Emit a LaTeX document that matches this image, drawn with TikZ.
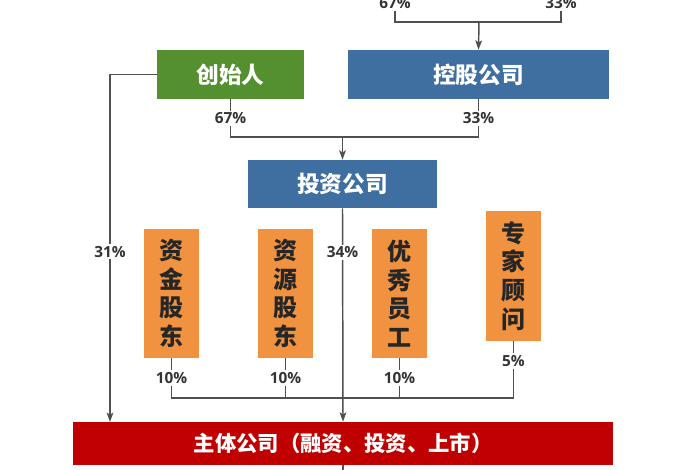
\documentclass[tikz,border=0pt]{standalone}
\usepackage{fontspec}
\setmainfont{Noto Sans CJK SC}
\newfontfamily\pctfont{Open Sans}
\usetikzlibrary{arrows.meta}
\definecolor{founderGreen}{RGB}{84,144,48}
\definecolor{companyBlue}{RGB}{62,111,160}
\definecolor{holderOrange}{RGB}{240,146,64}
\definecolor{mainRed}{RGB}{192,0,0}
\definecolor{lineGray}{RGB}{80,80,80}
\definecolor{pctGray}{RGB}{51,51,51}
\newdimen\unitpx \unitpx=0.75pt

\begin{document}
\begin{tikzpicture}[x=0.75pt,y=0.75pt,yscale=-1,xscale=1,
    conn/.style={draw=lineGray, line width=1.1pt},
    tip/.style={-{Stealth[length=7pt,width=5pt,inset=1.5pt]}},
    pct/.style={fill=white, inner sep=1.5pt, text=pctGray, font=\pctfont\bfseries\fontsize{11.5}{12}\selectfont},
    boxlabel/.style={draw=none, inner sep=0pt, text=white, font=\bfseries\fontsize{17}{20}\selectfont},
    holder/.style={fill=holderOrange, inner sep=0pt, minimum width=55\unitpx, align=center, text=black!85,
        font=\bfseries\fontsize{18}{21.4}\selectfont}]
    \useasboundingbox (0,0) rectangle (700,470);

    %Shape: Rectangle [founder]
    \node [boxlabel, fill=founderGreen, minimum width=147\unitpx, minimum height=49\unitpx] (founder) at (230.5,74.5) {创始人};
    %Shape: Rectangle [holding company]
    \node [boxlabel, fill=companyBlue, minimum width=261\unitpx, minimum height=49\unitpx] (holding) at (478.5,74.5) {控股公司};
    %Shape: Rectangle [investment company]
    \node [boxlabel, fill=companyBlue, minimum width=189\unitpx, minimum height=48\unitpx] (invest) at (342.5,184) {投资公司};
    %Shape: Rectangle [four holders]
    \node [holder, minimum height=129\unitpx] (fund) at (171.5,293.5) {资\\金\\股\\东};
    \node [holder, minimum height=129\unitpx] (resource) at (285.5,293.5) {资\\源\\股\\东};
    \node [holder, minimum height=129\unitpx] (staff) at (399.5,293.5) {优\\秀\\员\\工};
    \node [holder, minimum height=130\unitpx] (expert) at (513.5,276) {专\\家\\顾\\问};
    %Shape: Rectangle [main company]
    \node [boxlabel, fill=mainRed, minimum width=540\unitpx, minimum height=43\unitpx, font=\bfseries\fontsize{16}{19}\selectfont] (main) at (343,443.5) {主体公司（融资、投资、上市）};

    % Text Node
    \node [pct] (top67) at (395,3) {67\%};
    % Text Node
    \node [pct] (top33) at (561,3) {33\%};

    \coordinate (hj) at (479,22);
    \coordinate (ij) at (342.5,137);
    \coordinate (bj) at (343,398);
    \coordinate (leftin) at (110,422);
    \coordinate (below) at (343,480);

    % into the holding company
    \draw [conn] (top67.south) |- (hj) -| (top33.south);
    \draw [conn, tip] (hj) -- (holding.north);
    % into the investment company
    \draw [conn] (founder.south) |- node [pct, pos=0.25] {67\%} (ij);
    \draw [conn] (holding.south) |- node [pct, pos=0.25] {33\%} (ij);
    \draw [conn, tip] (ij) -- (invest.north);
    % into the main company
    \draw [conn, tip] (founder.west) -| node [pct, pos=0.755] {31\%} (leftin);
    \draw [conn] (fund.south) |- node [pct, pos=0.25] {10\%} (bj);
    \draw [conn] (resource.south) |- node [pct, pos=0.25] {10\%} (bj);
    \draw [conn] (staff.south) |- node [pct, pos=0.25] {10\%} (bj);
    \draw [conn] (expert.south) |- node [pct, pos=0.175] {5\%} (bj);
    \draw [conn, tip] (invest.south) -- node [pct, pos=0.206] {34\%} (main.north);
    \draw [conn] (main.south) -- (below);
\end{tikzpicture}
\end{document}
